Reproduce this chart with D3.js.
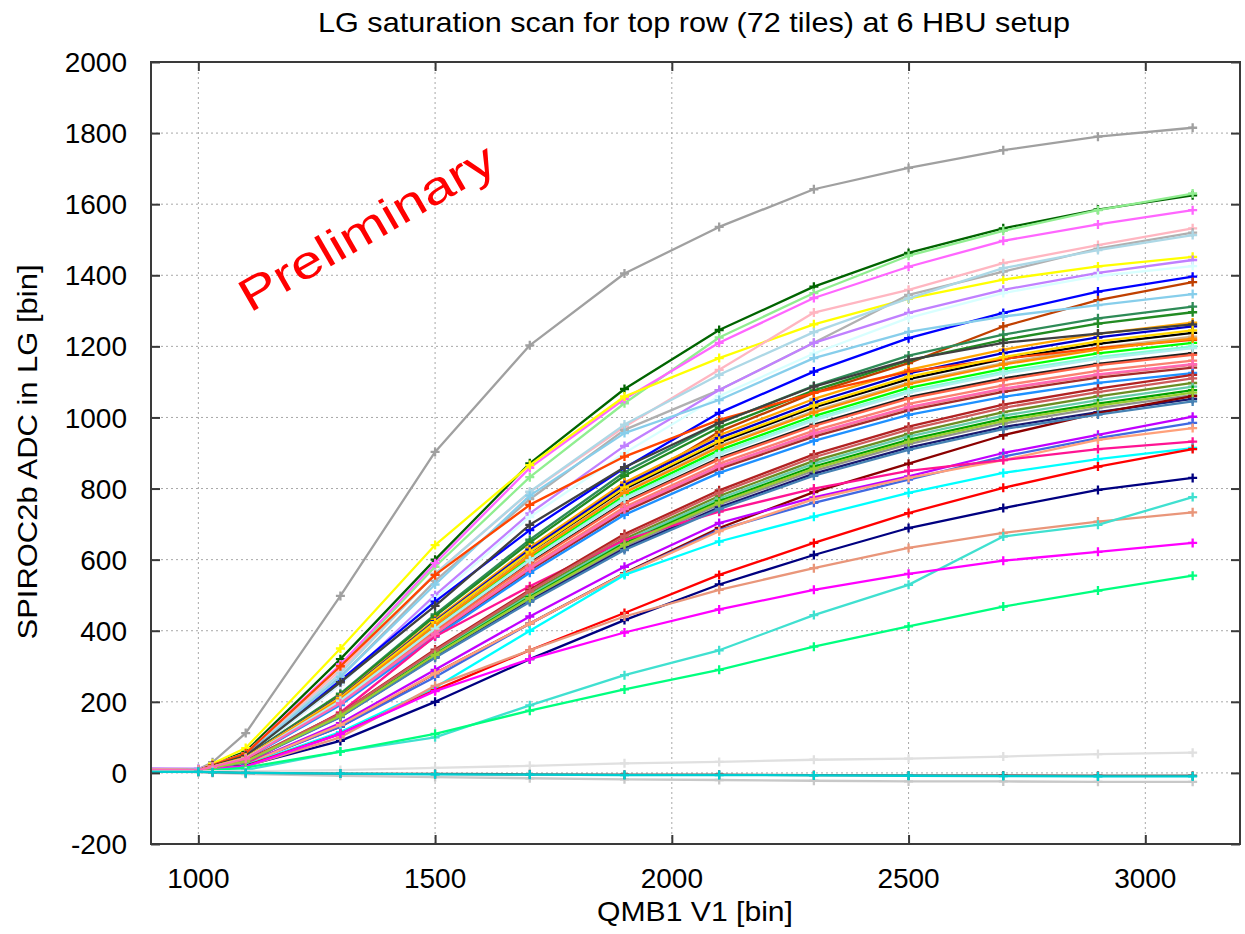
<!DOCTYPE html>
<html><head><meta charset="utf-8">
<script src="https://cdn.jsdelivr.net/npm/d3@7"></script>
<style>
html,body{margin:0;padding:0;background:#fff;}
text{font-family:"Liberation Sans",Arial,sans-serif;fill:#000;}
</style></head>
<body><svg id="c" width="1245" height="934"></svg>
<script>
const xValues = [900, 1000, 1030, 1100, 1300, 1500, 1700, 1900, 2100, 2300, 2500, 2700, 2900, 3100];
const xTicks = [1000, 1500, 2000, 2500, 3000];
const yTicks = [-200, 0, 200, 400, 600, 800, 1000, 1200, 1400, 1600, 1800, 2000];
const seriesColors = ["#a0a0a0","#006400","#90ee90","#ff66ff","#ffff00","#ffb6c1","#b0b0b0","#add8e6","#c080ff","#d8ffff",
"#0000ff","#c04000","#87ceeb","#2e8b57","#228b22","#ffa500","#0000cd","#000000","#d2b48c","#ff4500",
"#00ff00","#7fffd4","#404040","#202020","#ff6347","#fa8072","#f08080","#a52a2a","#1e90ff","#6b8e23",
"#66cdaa","#00a000","#909090","#191970","#8b0000","#c000ff","#4169e1","#ffa07a","#ff1493","#00ffff",
"#ff0000","#000080","#e9967a","#40e0d0","#ff00ff","#00ff7f","#ffd700","#ff8c00","#afeeee","#b22222",
"#cd5c5c","#4682b4","#9acd32","#ff69b4","#e0e0e0","#c8c8c8","#606060","#00ced1"];
const seriesValues = [
[10,10,30,112,498,903,1203,1405,1536,1642,1702,1752,1790,1815],
[9,8,24,60,320,600,871,1080,1246,1368,1463,1532,1585,1625],
[9,8,23,55,300,580,832,1040,1225,1350,1455,1525,1583,1630],
[11,9,23,55,305,590,858,1052,1210,1336,1424,1497,1543,1583],
[8,8,26,70,350,641,866,1059,1167,1262,1334,1388,1425,1452],
[10,9,22,52,290,560,790,974,1134,1295,1359,1434,1485,1532],
[8,8,21,48,270,540,770,965,1077,1210,1345,1410,1475,1520],
[9,9,22,50,280,560,791,980,1120,1240,1335,1420,1471,1513],
[13,12,21,45,250,500,730,920,1077,1210,1294,1359,1407,1443],
[9,8,20,45,250,490,720,900,1060,1180,1280,1350,1398,1426],
[7,7,20,50,260,482,683,858,1013,1129,1223,1294,1354,1396],
[8,8,19,40,215,420,620,800,960,1069,1153,1256,1330,1381],
[9,9,20,48,270,530,780,956,1049,1167,1241,1284,1316,1347],
[8,8,19,46,223,446,656,846,984,1089,1174,1233,1279,1312],
[8,8,19,45,220,441,648,836,972,1076,1160,1218,1264,1296],
[9,8,18,44,215,431,634,817,950,1052,1134,1191,1235,1267],
[8,7,18,44,214,427,628,810,942,1042,1124,1181,1225,1256],
[7,7,18,43,210,421,619,799,929,1028,1108,1164,1207,1238],
[9,8,18,43,209,417,614,791,920,1018,1098,1153,1196,1227],
[8,8,22,55,300,557,754,890,993,1069,1129,1165,1195,1218],
[8,7,17,42,206,411,605,780,908,1004,1083,1137,1180,1210],
[9,8,17,42,204,408,600,774,900,996,1074,1128,1170,1200],
[8,7,20,48,255,470,698,860,985,1087,1162,1210,1236,1262],
[7,7,17,41,201,402,591,762,886,980,1057,1110,1151,1181],
[8,8,17,41,200,400,588,759,882,976,1053,1105,1147,1176],
[9,8,17,41,197,394,580,748,870,963,1038,1090,1131,1160],
[8,8,16,40,195,390,574,740,861,953,1027,1079,1119,1148],
[7,7,16,40,194,388,570,735,855,946,1020,1072,1112,1140],
[8,7,16,39,191,383,563,726,844,934,1007,1058,1097,1125],
[8,7,15,33,165,340,505,658,779,878,954,1015,1059,1097],
[9,8,15,33,163,337,500,652,772,870,946,1005,1049,1087],
[8,7,15,32,162,334,495,646,765,862,937,996,1039,1077],
[8,7,15,32,159,330,489,638,755,850,925,983,1026,1063],
[7,6,15,32,158,326,484,631,747,842,915,973,1015,1052],
[7,6,14,27,130,280,420,562,689,790,870,950,1012,1060],
[9,8,14,25,140,290,440,580,703,775,834,900,951,1002],
[8,7,14,25,130,270,420,560,684,760,825,890,942,985],
[9,8,14,24,135,280,420,560,680,770,830,880,937,970],
[8,7,15,25,170,384,525,655,735,800,850,880,911,932],
[8,7,13,22,115,240,400,557,651,721,788,844,883,914],
[8,7,13,20,110,233,345,450,557,647,731,802,862,911],
[7,6,12,20,90,200,320,430,530,613,689,745,796,830],
[8,7,12,18,100,245,345,440,515,576,633,675,707,733],
[6,5,7,8,60,100,190,275,345,444,529,665,698,776],
[8,7,12,18,110,230,320,395,460,515,560,597,622,647],
[6,5,8,15,60,110,175,235,290,355,412,468,513,555],
[9,8,18,43,212,424,622,803,934,1033,1114,1170,1214,1245],
[8,8,18,42,208,415,611,788,917,1014,1094,1149,1191,1222],
[9,8,17,41,203,406,598,771,896,992,1070,1123,1165,1195],
[8,7,16,34,168,347,515,672,795,896,974,1036,1081,1120],
[8,7,16,33,167,344,511,666,788,888,966,1027,1071,1110],
[7,6,15,31,157,324,481,627,742,836,909,967,1008,1045],
[8,7,15,32,161,332,492,642,760,856,931,990,1033,1070],
[9,8,17,40,196,391,575,742,863,955,1029,1081,1121,1150],
[5,5,5,5,8,14,20,27,31,37,40,46,53,57],
[3,2,0,-3,-8,-12,-15,-18,-20,-22,-24,-24,-25,-25],
[3,3,2,0,-2,-3,-4,-5,-5,-6,-7,-7,-8,-8],
[3,3,2,0,-2,-4,-5,-6,-6,-7,-8,-9,-10,-10]
];
const titleText = "LG saturation scan for top row (72 tiles) at 6 HBU setup";
const xLabel = "QMB1 V1 [bin]";
const yLabel = "SPIROC2b ADC in LG [bin]";
const watermark = "Preliminary";

const svg = d3.select("#c");
const L = 151, R = 1240, T = 62, B = 844;
const x = d3.scaleLinear().domain([900, 3200]).range([L, R]);
const y = d3.scaleLinear().domain([-200, 2000]).range([B, T]);

svg.append("rect").attr("width",1245).attr("height",934).attr("fill","#fff");

// grid
const grid = svg.append("g").attr("stroke","#a8a8a8").attr("stroke-width",1).attr("stroke-dasharray","2,3");
grid.selectAll("line.gx").data(xTicks).join("line").attr("class","gx")
  .attr("x1",d=>x(d)).attr("x2",d=>x(d)).attr("y1",T).attr("y2",B);
grid.selectAll("line.gy").data(yTicks.filter(d=>d>-200 && d<2000)).join("line").attr("class","gy")
  .attr("y1",d=>y(d)).attr("y2",d=>y(d)).attr("x1",L).attr("x2",R);

// clip
svg.append("clipPath").attr("id","clip").append("rect").attr("x",L).attr("y",T).attr("width",R-L).attr("height",B-T);
const plot = svg.append("g").attr("clip-path","url(#clip)");
const line = d3.line().x((d,i)=>x(xValues[i])).y(d=>y(d));
seriesValues.forEach((vals,k)=>{
  const c = seriesColors[k];
  const g = plot.append("g");
  g.append("path").attr("d",line(vals)).attr("fill","none").attr("stroke",c).attr("stroke-width",2.3).attr("stroke-linejoin","round");
  const pts = vals.map((v,i)=>[xValues[i],v]).filter(p=>p[0]>900);
  g.selectAll("path.m").data(pts).join("path").attr("class","m")
    .attr("d",p=>{const px=x(p[0]), py=y(p[1]); return `M${px-4.5},${py}H${px+4.5}M${px},${py-4.5}V${py+4.5}`;})
    .attr("stroke",c).attr("stroke-width",2.3).attr("fill","none");
});

// axes ticks (inward) on all four sides
const tickCol = "#3a3a3a";
const ax = svg.append("g");
ax.append("g").attr("transform",`translate(0,${B})`).call(d3.axisBottom(x).tickValues(xTicks).tickSize(-9).tickSizeOuter(0).tickFormat(""));
ax.append("g").attr("transform",`translate(0,${T})`).call(d3.axisTop(x).tickValues(xTicks).tickSize(-9).tickSizeOuter(0).tickFormat(""));
ax.append("g").attr("transform",`translate(${L},0)`).call(d3.axisLeft(y).tickValues(yTicks).tickSize(-9).tickSizeOuter(0).tickFormat(""));
ax.append("g").attr("transform",`translate(${R},0)`).call(d3.axisRight(y).tickValues(yTicks).tickSize(-9).tickSizeOuter(0).tickFormat(""));
ax.selectAll(".domain").remove();
ax.selectAll(".tick line").attr("stroke",tickCol).attr("stroke-width",2);
svg.append("rect").attr("x",L).attr("y",T).attr("width",R-L).attr("height",B-T)
  .attr("fill","none").attr("stroke",tickCol).attr("stroke-width",2);

// tick labels
svg.append("g").selectAll("text").data(xTicks).join("text")
  .attr("x",d=>x(d)).attr("y",888).attr("text-anchor","middle").attr("font-size",28).text(d=>d);
svg.append("g").selectAll("text").data(yTicks).join("text")
  .attr("x",127).attr("y",d=>y(d)).attr("dy","0.36em").attr("text-anchor","end").attr("font-size",28).text(d=>d);

// titles
svg.append("text").attr("x",694).attr("y",32).attr("text-anchor","middle").attr("font-size",28)
  .attr("textLength",752).attr("lengthAdjust","spacingAndGlyphs").text(titleText);
svg.append("text").attr("x",695).attr("y",921).attr("text-anchor","middle").attr("font-size",28)
  .attr("textLength",196).attr("lengthAdjust","spacingAndGlyphs").text(xLabel);
svg.append("text").attr("transform","translate(37,452) rotate(-90)").attr("text-anchor","middle").attr("font-size",28)
  .attr("textLength",375).attr("lengthAdjust","spacingAndGlyphs").text(yLabel);

// watermark
svg.append("text").attr("transform","translate(250,313) rotate(-30)")
  .attr("font-family","'Comic Sans MS','DejaVu Sans',sans-serif").attr("font-size",46)
  .attr("textLength",288).attr("lengthAdjust","spacingAndGlyphs")
  .style("fill","#ff0000").text(watermark);
</script></body></html>
